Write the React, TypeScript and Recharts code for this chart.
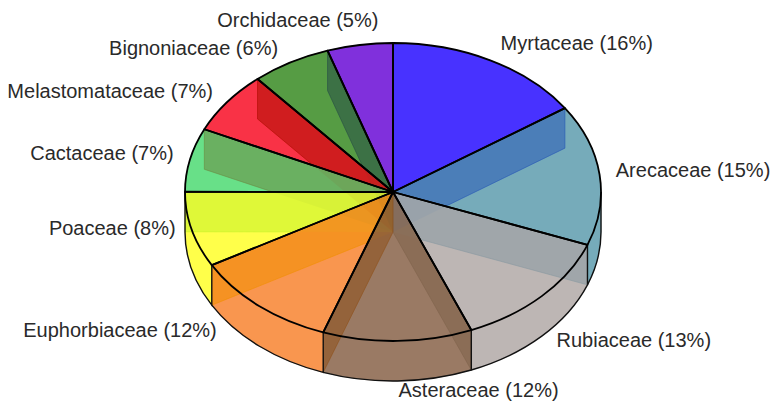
import { PieChart, Pie } from "recharts";

const families = ["Myrtaceae", "Arecaceae", "Rubiaceae", "Asteraceae", "Euphorbiaceae", "Poaceae", "Cactaceae", "Melastomataceae", "Bignoniaceae", "Orchidaceae"];
// slice sizes, the labels carry the rounded numbers
const shares = [15.5, 15.3, 13.1, 11.6, 11.4, 8.2, 6.9, 6.8, 6.2, 5.1];
const percentLabels = [16, 15, 13, 12, 12, 8, 7, 7, 6, 5];
const topColors = ["#4832ff", "#76abba", "#bdb6b4", "#9a7a64", "#f9964f", "#ffff4a", "#68e088", "#f93246", "#569c44", "#8030dc"];
// colour of the inner wall at the start edge of each slice
const wallColors = ["#5a3a9c", "#2859b6", "#899aa2", "#80644c", "#90521a", "#f19000", "#c5f12a", "#6c8a42", "#af0e00", "#284e46"];
// label centre relative to the rim point of the slice
const labelNudge = [[86.5, -17], [93.5, -5], [92, 44], [81, 49.5], [-139, 24], [-79.5, -2], [-88, -7], [-117, -11], [-97, -14.5], [-62, -25]];

const data = families.map((name, i) => ({
  name,
  value: shares[i],
  pct: percentLabels[i],
  top: topColors[i],
  wall: wallColors[i],
  nextWall: wallColors[(i + 1) % wallColors.length],
  nudge: labelNudge[i],
}));

const CX = 393;
const CY = 192;
const RX = 208;
const RY = 149;
const DEPTH = 40;
const RAD = Math.PI / 180;

const pt = (deg: number, dy = 0) => {
  const x = CX + RX * Math.cos(deg * RAD);
  const y = CY + dy - RY * Math.sin(deg * RAD);
  return `${x.toFixed(2)} ${y.toFixed(2)}`;
};
const arc = (from: number, to: number, dy = 0) => `A ${RX} ${RY} 0 ${from - to > 180 ? 1 : 0} 1 ${pt(to, dy)}`;
const center = (dy = 0) => `${CX} ${CY + dy}`;
const wallPath = (a: number) => `M ${center()} L ${pt(a)} L ${pt(a, DEPTH)} L ${center(DEPTH)} Z`;

function stripRange(p: any) {
  const a = Math.min(p.startAngle, 0);
  const b = Math.max(p.endAngle, -180);
  if (a <= b) return null;
  return { a, b };
}
const topPath = (p: any) => `M ${center()} L ${pt(p.startAngle)} ${arc(p.startAngle, p.endAngle)} Z`;
const stripPath = (s: { a: number; b: number }) => `M ${pt(s.a)} ${arc(s.a, s.b)} L ${pt(s.b, DEPTH)} A ${RX} ${RY} 0 0 0 ${pt(s.a, DEPTH)} Z`;

function WallStrip(p: any) {
  const s = stripRange(p);
  if (!s) return <g />;
  return <path d={stripPath(s)} fill={p.top} stroke={p.top} strokeWidth={0.5} />;
}

function TopFace(p: any) {
  return <path d={topPath(p)} fill={p.top} stroke={p.top} strokeWidth={0.5} />;
}

// a wall seen through the glass, only a trace of it carries over other slices
function FaintWall(p: any) {
  return <path d={wallPath(p.startAngle)} fill={p.wall} fillOpacity={0.1} />;
}

// walls at full strength, kept inside the slice that sits in front of them
function InnerWall(p: any) {
  const s = stripRange(p);
  const id = `clip-${p.name}`;
  const walls = [];
  if (p.startAngle > -90 && p.startAngle < 90) walls.push({ angle: p.startAngle, color: p.wall });
  if (p.endAngle < -90 && p.endAngle > -265) walls.push({ angle: p.endAngle, color: p.nextWall });
  return (
    <g>
      <clipPath id={id}>
        <path d={topPath(p)} />
        {s && <path d={stripPath(s)} />}
      </clipPath>
      <g clipPath={`url(#${id})`}>
        {walls.map((w) => (
          <path key={w.angle} d={wallPath(w.angle)} fill={w.color} fillOpacity={0.5} stroke={w.color} strokeOpacity={0.6} strokeWidth={1} />
        ))}
      </g>
    </g>
  );
}

function Outline(p: any) {
  const s = stripRange(p);
  let low = "";
  if (s) {
    low = `M ${pt(s.a)} L ${pt(s.a, DEPTH)} ${arc(s.a, s.b, DEPTH)}`;
    if (s.b <= -179) low += ` L ${pt(s.b)}`;
  }
  return (
    <g>
      {low && <path d={low} fill="none" stroke="#111" strokeWidth={1.4} />}
      <path d={topPath(p)} fill="none" stroke="#000" strokeWidth={1.8} strokeLinejoin="round" />
    </g>
  );
}

function renderLabel(p: any) {
  const row = data[p.index];
  const x = CX + RX * Math.cos(p.midAngle * RAD) + row.nudge[0];
  const y = CY - RY * Math.sin(p.midAngle * RAD) + row.nudge[1];
  return (
    <text key={row.name} x={x} y={y} textAnchor="middle" dominantBaseline="central" fontSize={20} fontFamily="'Liberation Sans', sans-serif" fill="#2a2a2a">
      {`${row.name} (${row.pct}%)`}
    </text>
  );
}

const common = {
  data,
  dataKey: "value",
  nameKey: "name",
  cx: CX,
  cy: CY,
  outerRadius: RX,
  startAngle: 90,
  endAngle: -270,
  isAnimationActive: false,
  stroke: "none",
};

export default function App() {
  return (
    <div style={{ position: "absolute", left: 0, top: 0, width: 772, height: 402, background: "#fff" }}>
      <PieChart width={772} height={402} margin={{ top: 0, right: 0, bottom: 0, left: 0 }}>
        <Pie {...common} shape={WallStrip} />
        <Pie {...common} shape={TopFace} />
        <Pie {...common} shape={FaintWall} />
        <Pie {...common} shape={InnerWall} />
        <Pie {...common} shape={Outline} label={renderLabel} labelLine={false} />
      </PieChart>
    </div>
  );
}
